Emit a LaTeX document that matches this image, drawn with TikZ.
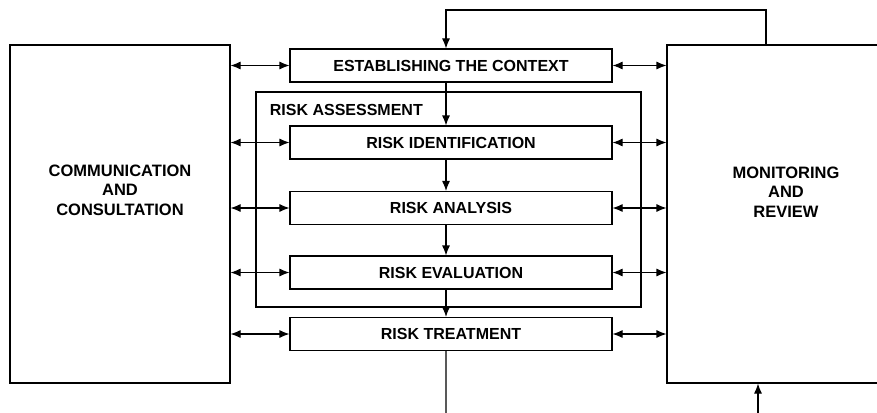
\documentclass[tikz,border=0pt]{standalone}
\usepackage{fontspec}
\setmainfont{Liberation Sans}
\usetikzlibrary{arrows.meta}

\begin{document}
\begin{tikzpicture}[x=1pt, y=-1pt, line width=1.1pt, >={Latex[length=10pt,width=8pt]},
	box/.style={draw, fill=white, minimum width=322, minimum height=33, inner sep=0pt, font=\fontsize{16}{19}\selectfont\bfseries},
	bigbox/.style={draw, minimum width=220, minimum height=338, inner sep=0pt},
	bigtext/.style={align=center, font=\fontsize{16.5}{19.5}\selectfont\bfseries}]

		\useasboundingbox (0,0) rectangle (877,412);
		\clip (0,0) rectangle (877,412);

		\node[bigbox] (comm) at (120,214) {};
		\node[bigbox, minimum width=238] (mon) at (786,214) {};
		\node[bigtext] (commtext) at (120,190) {COMMUNICATION\\AND\\CONSULTATION};
		\node[bigtext] (montext) at (786,192) {MONITORING\\AND\\REVIEW};

		\node[draw, minimum width=385, minimum height=215, inner sep=0pt] (ra) at (448.5,199.5) {};
		\node[anchor=west, font=\fontsize{16}{19}\selectfont\bfseries] (ralabel) at (266,110) {RISK ASSESSMENT};

		\node[box] (est) at (451,65.5) {ESTABLISHING THE CONTEXT};
		\node[box] (ident) at (451,142.5) {RISK IDENTIFICATION};
		\node[box] (anal) at (451,208) {RISK ANALYSIS};
		\node[box] (eval) at (451,272.5) {RISK EVALUATION};
		\node[box] (treat) at (451,334) {RISK TREATMENT};

		\coordinate (spine) at (446,0);
		\coordinate (loop) at (766,10);
		\coordinate (out) at (446,414);
		\coordinate (in) at (758,414);

		% down the middle
		\draw[->] (est.south -| spine) -- (ident.north -| spine);
		\draw[->] (ident.south -| spine) -- (anal.north -| spine);
		\draw[->] (anal.south -| spine) -- (eval.north -| spine);
		\draw[->] (eval.south -| spine) -- (treat.north -| spine);
		\draw[gray!70!black, line width=1.4pt] (treat.south -| spine) -- (out);

		% both sides
		\foreach \b in {est,ident,anal,eval,treat} {
			\draw[<->] (comm.east |- \b.west) -- (\b.west);
			\draw[<->] (\b.east) -- (mon.west |- \b.east);
		}

		% feedback
		\draw[->] (loop |- mon.north) -- (loop) -| (est.north -| spine);
		\draw[->] (in) -- (in |- mon.south);
	\end{tikzpicture}
\end{document}
